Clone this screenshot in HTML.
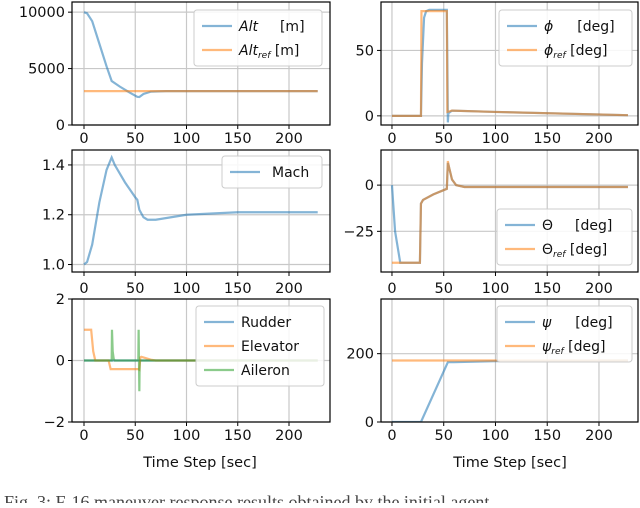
<!DOCTYPE html>
<html><head><meta charset="utf-8"><style>
body{margin:0;background:#fff;width:640px;height:503px;overflow:hidden}
svg{font-family:"DejaVu Sans","Liberation Sans",sans-serif}
</style></head><body>
<svg id="fig" width="640" height="503" viewBox="0 0 640 503" xmlns="http://www.w3.org/2000/svg">
<text x="4" y="508" font-family="Liberation Serif, serif" font-size="18" fill="#444">Fig. 3: F-16 maneuver response results obtained by the initial agent</text>
</svg>
<script>
const xTicks=[0,50,100,150,200];
// Altitude
const altT=[0,3,8,15,22,27,35,45,52,54,58,65,80,228];
const altV=[10000,9900,9200,7200,5200,3900,3400,2850,2500,2480,2750,2950,3000,3000];
const altRefT=[0,228];const altRefV=[3000,3000];
// Mach
const machT=[0,3,8,15,22,26,27,30,40,50,52,54,58,62,70,100,150,228];
const machV=[1.0,1.01,1.08,1.25,1.38,1.42,1.43,1.4,1.33,1.27,1.26,1.22,1.19,1.18,1.18,1.2,1.21,1.21];
// Roll
const phiT=[0,28,29,31,33,36,53,53.5,54,54.5,58,100,228];
const phiV=[0,0,40,75,80,81,81,40,-5,2,4,3,0.5];
const phiRefT=[0,28,28.5,53,53.5,58,100,228];
const phiRefV=[0,0,80,80,3,4,3,0.5];
// Pitch
const thT=[0,3,8,12,27,28,30,40,53,54,55,58,62,70,228];
const thV=[0,-25,-42,-42,-42,-10,-8,-5,-2,12,10,3,0,-1,-1];
const thRefT=[0,27,28,30,40,53,54,55,58,62,70,228];
const thRefV=[-42,-42,-10,-8,-5,-2,13,10,3,0,-1,-1];
// Controls
const rudT=[0,228];const rudV=[0,0];
const elevT=[0,7,9,11,13,24,26,53,54,55,56,60,66,70,228];
const elevV=[1,1,0.3,0,0,0,-0.28,-0.28,-0.3,0.1,0.12,0.08,0.02,0,0];
const ailT=[0,27,27.3,28,29,30,53,53.3,54,54.3,55,56,228];
const ailV=[0,0,1,0.3,0.05,0,0,1,-1,0,0,0,0];
// Yaw
const psiT=[0,28,54,60,100,228];const psiV=[0,0,175,175,178,180];
const psiRefT=[0,228];const psiRefV=[180,180];

const NS="http://www.w3.org/2000/svg";
const svg=document.getElementById('fig');
function el(t,a,p){const e=document.createElementNS(NS,t);for(const k in a)e.setAttribute(k,a[k]);(p||svg).appendChild(e);return e;}
function txt(x,y,s,anchor,size,p){const e=el('text',{x:x,y:y,'text-anchor':anchor||'middle','font-size':size||13,fill:'#111'},p);e.textContent=s;return e;}
const BLUE='rgba(31,119,180,0.55)',ORANGE='rgba(255,127,14,0.55)',GREEN='rgba(44,160,44,0.55)';

function panel(name,L,R,T,B,x0,x1,y0,y1,yTicks,yLabel,series,legend,xLabPos){
  const g=el('g',{});
  
  
  const sx=v=>L+(v-x0)/(x1-x0)*(R-L), sy=v=>B-(v-y0)/(y1-y0)*(B-T);
  const cp='cp-'+name;
  const cl=el('clipPath',{id:cp},g);el('rect',{x:L,y:T,width:R-L,height:B-T},cl);
  xTicks.forEach(v=>{el('line',{x1:sx(v),x2:sx(v),y1:T,y2:B,stroke:'#c8c8c8','stroke-width':1.2},g);
    el('line',{x1:sx(v),x2:sx(v),y1:B,y2:B+4,stroke:'#000'},g);
    const t=txt(sx(v),xLabPos,String(v),'middle',14.5,g);
    });
  yTicks.forEach((v,i)=>{el('line',{x1:L,x2:R,y1:sy(v),y2:sy(v),stroke:'#c8c8c8','stroke-width':1.2},g);
    el('line',{x1:L-4,x2:L,y1:sy(v),y2:sy(v),stroke:'#000'},g);
    const t=txt(L-7,sy(v)+5,yLabel[i],'end',14.5,g);
    });
  series.forEach(s=>{const p=el('polyline',{points:s.t.map((t,i)=>sx(t)+','+sy(s.v[i])).join(' '),fill:'none',stroke:s.c,'stroke-width':2.2,'clip-path':'url(#'+cp+')'},g);
    });
  el('rect',{x:L,y:T,width:R-L,height:B-T,fill:'none',stroke:'#000','stroke-width':1.2},g);
  const lg=el('g',{},g);
  
  
  el('rect',{x:legend.x,y:legend.y,width:legend.w,height:legend.items.length*24+8,rx:3,fill:'rgba(255,255,255,0.85)',stroke:'#ccc'},lg);
  legend.items.forEach((it,i)=>{const yy=legend.y+16+i*24;
    el('line',{x1:legend.x+8,x2:legend.x+38,y1:yy,y2:yy,stroke:it.c,'stroke-width':2.2},lg);
    const t=el('text',{x:legend.x+45,y:yy+5,'font-size':14,fill:'#111'},lg);t.innerHTML=it.h;});
}
function fl(x,y,t){const e=txt(x,y,t,'middle',14.5);}

const LX0=-11.7,LX1=240,RX0=-10.6,RX1=237.7;
panel('altitude-panel',72,330,2,125,LX0,LX1,0,10900,[0,5000,10000],['0','5000','10000'],
 [{t:altT,v:altV,c:BLUE,n:'alt-line'},{t:altRefT,v:altRefV,c:ORANGE,n:'alt-ref-line'}],
 {x:194,y:10,w:128,items:[{c:BLUE,h:'<tspan font-style="italic">Alt</tspan><tspan dx="22">[m]</tspan>'},{c:ORANGE,h:'<tspan font-style="italic">Alt</tspan><tspan font-style="italic" font-size="9" dy="3">ref</tspan><tspan dy="-3"> [m]</tspan>'}]},143);
panel('mach-panel',72,330,150,272,LX0,LX1,0.97,1.46,[1.0,1.2,1.4],['1.0','1.2','1.4'],
 [{t:machT,v:machV,c:BLUE,n:'mach-line'}],
 {x:222,y:156,w:100,items:[{c:BLUE,h:'<tspan dx="5">Mach</tspan>'}]},293);
panel('controls-panel',72,330,299,422,LX0,LX1,-2,2,[-2,0,2],['\u22122','0','2'],
 [{t:rudT,v:rudV,c:BLUE,n:'rudder-line'},{t:elevT,v:elevV,c:ORANGE,n:'elevator-line'},{t:ailT,v:ailV,c:GREEN,n:'aileron-line'}],
 {x:196,y:306,w:128,items:[{c:BLUE,h:'Rudder'},{c:ORANGE,h:'Elevator'},{c:GREEN,h:'Aileron'}]},440);
fl(200,467,'Time Step [sec]');
panel('roll-panel',381,638,2,125,RX0,RX1,-7,87,[0,50],['0','50'],
 [{t:phiT,v:phiV,c:BLUE,n:'phi-line'},{t:phiRefT,v:phiRefV,c:ORANGE,n:'phi-ref-line'}],
 {x:499,y:10,w:133,items:[{c:BLUE,h:'<tspan font-style="italic">\u03d5</tspan><tspan dx="24">[deg]</tspan>'},{c:ORANGE,h:'<tspan font-style="italic">\u03d5</tspan><tspan font-style="italic" font-size="9" dy="3">ref</tspan><tspan dy="-3"> [deg]</tspan>'}]},143);
panel('pitch-panel',381,638,150,272,RX0,RX1,-47,19,[-25,0],['\u221225','0'],
 [{t:thT,v:thV,c:BLUE,n:'theta-line'},{t:thRefT,v:thRefV,c:ORANGE,n:'theta-ref-line'}],
 {x:497,y:209,w:135,items:[{c:BLUE,h:'\u0398<tspan dx="22">[deg]</tspan>'},{c:ORANGE,h:'\u0398<tspan font-style="italic" font-size="9" dy="3">ref</tspan><tspan dy="-3"> [deg]</tspan>'}]},293);
panel('yaw-panel',381,638,299,422,RX0,RX1,0,360,[0,200],['0','200'],
 [{t:psiT,v:psiV,c:BLUE,n:'psi-line'},{t:psiRefT,v:psiRefV,c:ORANGE,n:'psi-ref-line'}],
 {x:497,y:306,w:135,items:[{c:BLUE,h:'<tspan font-style="italic">\u03c8</tspan><tspan dx="24">[deg]</tspan>'},{c:ORANGE,h:'<tspan font-style="italic">\u03c8</tspan><tspan font-style="italic" font-size="9" dy="3">ref</tspan><tspan dy="-3"> [deg]</tspan>'}]},440);
fl(510,467,'Time Step [sec]');
</script>
</body></html>
